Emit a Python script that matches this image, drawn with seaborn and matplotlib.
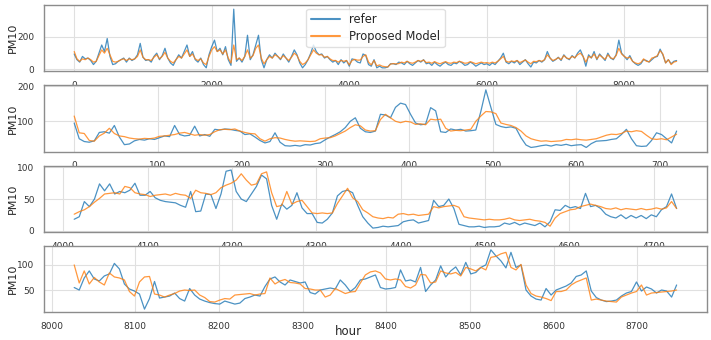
import numpy as np
import pandas as pd
import matplotlib
matplotlib.use("Agg")
import matplotlib.pyplot as plt
import seaborn as sns

# ---------------- data ----------------
# Panel 1: full year, sampled every 40 h
p1_step = 40
p1_refer = [95,60,45,80,65,70,55,30,50,100,150,110,190,80,30,35,50,60,70,
    45,70,55,65,90,160,75,55,60,45,
    80,100,60,85,130,70,40,25,60,90,
    70,110,150,80,110,60,45,70,30,10,
    90,140,180,110,130,90,140,60,25,370,
    50,70,45,80,210,60,90,150,210,60,
    10,60,90,70,100,80,60,95,70,45,
    80,120,90,40,10,30,60,100,150,110,
    90,95,70,80,60,45,55,30,60,40,
    55,
    20,65,60,45,40,95,85,30,20,60,10,20,10,10,15,35,35,30,45,
    40,30,50,35,25,40,55,45,60,35,
    40,25,45,30,20,35,45,30,25,40,
    35,50,40,25,30,45,35,20,30,40,
    30,35,25,40,30,50,70,100,45,35,
    50,40,55,30,45,60,35,15,45,40,
    55,45,60,110,70,50,60,75,55,90,
    70,60,85,70,100,120,80,20,90,70,
    110,60,95,75,55,100,70,60,90,180,
    100,80,
    60,85,50,35,25,35,60,55,45,60,75,80,125,90,40,60,35,50,55]
p1_model = [110,65,50,65,60,70,60,45,50,85,120,100,130,90,50,45,50,60,65,
    55,65,60,65,80,120,75,60,60,55,
    75,90,65,80,105,70,50,40,60,80,
    70,95,120,80,95,65,55,65,40,30,
    80,120,140,110,120,95,120,70,40,150,
    60,70,55,80,120,70,85,130,150,70,
    35,60,80,70,90,80,65,85,70,55,
    75,100,85,50,30,40,60,90,120,100,
    90,90,75,80,65,55,55,45,55,50,
    55,
    28,55,62,57,58,80,90,45,28,55,22,28,20,17,15,33,36,34,36,
    45,40,50,42,38,45,55,50,58,42,
    45,38,48,40,35,42,48,40,38,45,
    42,50,45,38,40,48,42,35,40,45,
    40,42,38,45,40,50,65,80,50,45,
    52,48,55,42,50,58,45,35,50,48,
    55,50,60,90,70,55,62,72,60,85,
    70,65,80,72,90,100,80,45,80,72,
    95,65,88,75,62,90,72,65,85,130,
    95,80,
    70,75,50,40,35,42,65,50,47,70,75,85,115,95,40,60,30,45,50]

# Panel 2: hours 0..720, every 6 h
p2_start, p2_step = 0, 6
p2_refer = [95,50,42,40,44,68,70,66,88,55,33,35,44,48,46,50,48,53,58,56,
    88,62,58,60,86,58,62,57,77,75,78,77,74,72,62,64,55,45,38,42,
    67,40,30,29,31,29,33,32,36,38,47,55,62,70,82,100,110,80,70,68,
    72,120,118,110,140,152,148,120,95,90,92,139,130,70,68,78,75,77,72,73,
    75,128,190,140,91,85,82,84,80,53,32,25,27,30,32,29,33,31,34,30,
    32,33,25,36,43,44,45,48,50,62,77,50,30,28,29,45,67,62,50,38,72]
p2_model = [115,67,65,45,43,58,66,80,65,58,56,52,50,49,51,50,52,57,58,60,
    62,66,68,64,60,62,60,62,70,76,77,76,78,72,68,65,64,50,43,50,
    53,52,48,45,43,44,43,42,43,50,52,53,58,65,72,82,90,87,75,72,
    73,105,120,110,100,96,100,98,91,93,90,106,104,106,80,72,74,73,75,77,
    100,115,128,127,122,95,91,88,82,72,58,50,46,43,44,42,43,44,48,47,
    49,47,46,48,50,55,60,63,62,65,72,70,73,71,60,50,48,50,47,55,63]

# Panel 3: hours 4013..~4727, every 6 h
p3_start, p3_step = 4013, 6
p3_refer = [18,22,46,38,50,74,63,74,58,62,60,64,75,56,56,62,52,48,46,45,
    44,40,37,62,30,31,58,57,35,58,94,96,62,50,46,58,70,88,82,40,
    18,42,34,40,60,36,27,27,13,12,18,28,55,62,64,60,40,22,12,4,
    5,7,6,7,8,14,16,17,12,14,16,48,38,40,50,35,10,8,6,6,
    7,5,6,6,7,12,10,13,9,12,10,8,12,6,14,33,32,40,36,38,
    35,59,38,40,35,26,22,20,25,19,24,20,24,19,25,22,33,38,58,35]
p3_model = [26,30,33,38,45,51,58,59,60,58,70,68,60,58,57,54,56,57,58,56,
    59,57,56,51,64,60,59,57,60,68,72,75,80,90,80,72,74,90,93,60,
    38,40,62,42,46,48,38,28,27,28,27,28,43,55,67,52,46,33,28,22,
    20,19,21,20,26,27,25,26,24,25,26,38,36,38,39,40,37,22,20,19,
    18,17,18,17,17,18,20,17,16,17,18,16,15,13,7,20,27,30,33,34,
    38,40,42,40,38,35,34,36,33,35,34,33,35,33,34,36,34,36,46,35]

# Panel 4: hours 8027..8747, every 6 h
p4_start, p4_step = 8027, 6
p4_refer = [55,50,74,88,72,68,78,82,103,92,62,52,48,42,12,33,67,34,36,38,
    44,33,28,53,40,32,28,25,23,22,28,25,22,24,33,36,40,38,57,72,
    76,66,60,70,67,64,66,45,42,50,52,54,52,70,60,47,55,70,72,76,
    80,55,52,53,55,90,68,70,66,95,47,60,70,98,76,88,96,80,105,82,
    85,95,100,130,118,108,94,125,95,100,50,38,32,30,53,40,50,54,58,64,
    77,80,88,48,35,30,27,28,30,38,44,47,66,48,56,52,44,50,48,36,60]
p4_model = [100,64,88,62,75,66,60,84,76,74,70,47,38,66,76,77,42,40,36,40,
    43,48,50,49,50,40,35,27,26,30,33,32,40,41,42,43,40,42,43,74,
    62,68,71,65,64,62,53,52,50,50,36,40,53,48,43,46,47,64,80,86,
    88,84,72,70,72,70,57,54,60,81,80,64,66,88,84,82,85,78,95,92,
    88,95,90,115,117,122,125,95,90,101,60,43,38,36,33,29,47,47,50,60,
    66,70,74,30,32,30,28,27,26,36,40,44,47,60,40,44,45,46,47,48,50]

series_names = ["refer", "Proposed Model"]
colors = ["#1f77b4", "#ff7f0e"]

panels = [
    (0, p1_step, p1_refer, p1_model, [0, 200], (-12, 395), None),
    (p2_start, p2_step, p2_refer, p2_model, [100, 200], (13, 203), list(range(0, 701, 100))),
    (p3_start, p3_step, p3_refer, p3_model, [0, 50, 100], (-2, 103), list(range(4000, 4701, 100))),
    (p4_start, p4_step, p4_refer, p4_model, [50, 100], (6, 138), list(range(8000, 8701, 100))),
]

# ---------------- plot ----------------
sns.set_theme(style="whitegrid")
plt.rcParams['font.family'] = ['DejaVu Sans']
plt.rcParams['axes.edgecolor'] = '0.55'
plt.rcParams['axes.linewidth'] = 1.0
plt.rcParams['grid.color'] = '0.88'
plt.rcParams['grid.linewidth'] = 0.8

fig, axes = plt.subplots(4, 1, figsize=(7.11, 3.40), dpi=100)
fig.subplots_adjust(left=0.062, right=0.994, top=0.985, bottom=0.082, hspace=0.21)

for i, (ax, (start, step, ref, mod, yt, yl, xt)) in enumerate(zip(axes, panels)):
    for name, vals, c in zip(series_names, [ref, mod], colors):
        hours = start + np.arange(len(vals)) * step
        df = pd.DataFrame({"hour": hours, "PM10": vals})
        sns.lineplot(data=df, x="hour", y="PM10", ax=ax, color=c, linewidth=0.9,
                     alpha=0.8, label=name if i == 0 else None, legend=False)
    ax.set_yticks(yt)
    ax.set_ylim(*yl)
    if xt is not None:
        ax.set_xticks(xt)
    ax.tick_params(axis='both', labelsize=6.5, pad=1, colors='0.2')
    ax.set_ylabel("PM10", fontsize=8)
    ax.yaxis.set_label_coords(-0.04, 0.5)
    ax.set_xlabel("")
    for s in ax.spines.values():
        s.set_color('0.55')

axes[3].set_xlabel("hour", fontsize=8.5)
axes[3].xaxis.set_label_coords(0.46, -0.2)

leg = axes[0].legend(loc="upper center", fontsize=8.3, frameon=True,
                     borderaxespad=0.3, handlelength=2.5, labelspacing=0.3)
for lh in leg.get_lines():
    lh.set_linewidth(1.5)
leg.get_frame().set_edgecolor('0.85')

fig.savefig("out.png", dpi=100)
